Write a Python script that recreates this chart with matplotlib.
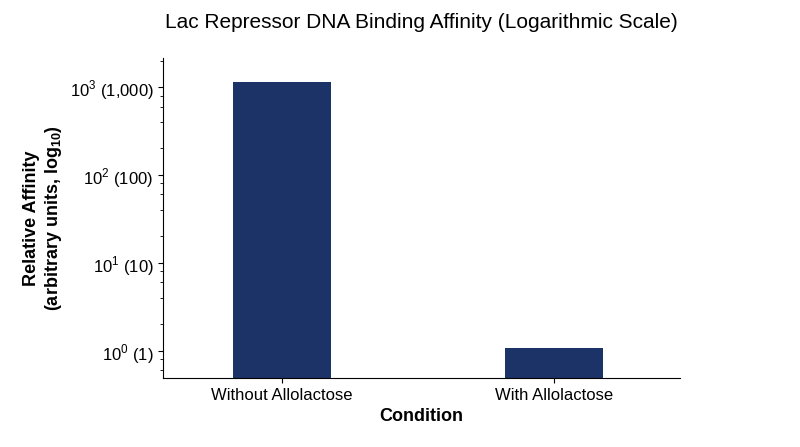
import matplotlib.pyplot as plt
from matplotlib.ticker import LogLocator, NullFormatter

plt.rcParams['font.family'] = ['Liberation Sans', 'DejaVu Sans']
plt.rcParams['mathtext.fontset'] = 'custom'
plt.rcParams['mathtext.rm'] = 'Liberation Sans'
plt.rcParams['mathtext.bf'] = 'Liberation Sans:bold'

conditions = ["Without Allolactose", "With Allolactose"]
affinity = [1150, 1.08]
tick_vals = [1, 10, 100, 1000]
tick_labels = ["$10^0$ (1)", "$10^1$ (10)", "$10^2$ (100)", "$10^3$ (1,000)"]

fig = plt.figure(figsize=(8, 4.47), dpi=100)
ax = fig.add_axes([0.204, 0.154, 0.646, 0.716])

x = range(len(conditions))
ax.bar(x, affinity, width=0.36, color="#1b3366")
ax.set_yscale("log")
ax.set_ylim(0.49, 2130)
ax.set_xlim(-0.4375, 1.463)
ax.set_xticks(list(x))
ax.set_xticklabels(conditions, fontsize=12)
ax.set_yticks(tick_vals)
ax.set_yticklabels(tick_labels, fontsize=12)
ax.yaxis.set_minor_locator(LogLocator(base=10, subs=(2, 4, 6, 8)))
ax.yaxis.set_minor_formatter(NullFormatter())

ax.spines["top"].set_visible(False)
ax.spines["right"].set_visible(False)

ax.set_xlabel("Condition", fontsize=13, fontweight="bold")
ax.set_ylabel("Relative Affinity\n(arbitrary units, $\\mathbf{log_{10}}$)",
              fontsize=13, fontweight="bold")
ax.set_title("Lac Repressor DNA Binding Affinity (Logarithmic Scale)",
             fontsize=15, pad=22)

fig.savefig("out.png", dpi=100)
